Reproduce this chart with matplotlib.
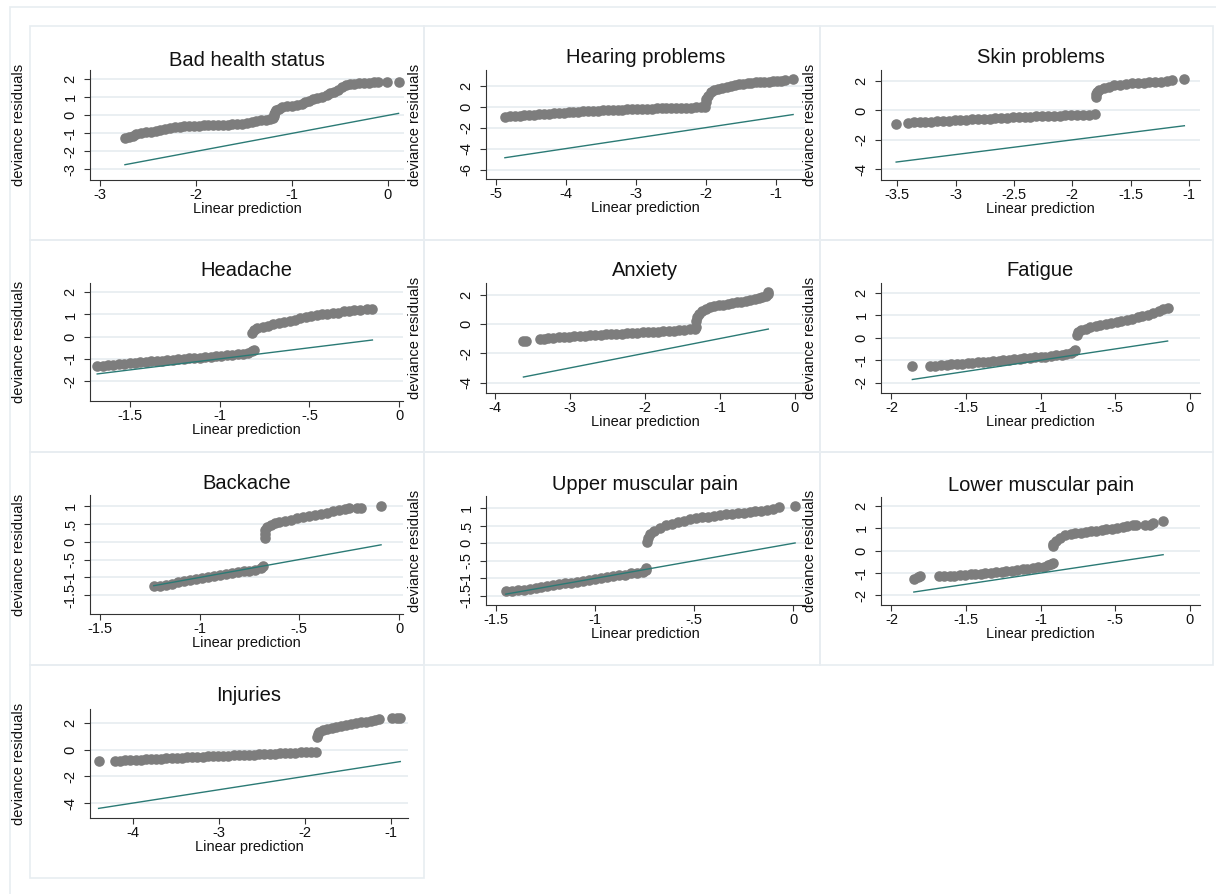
import matplotlib.pyplot as plt
from matplotlib.patches import Rectangle

plt.rcParams['font.family'] = ['Liberation Sans', 'DejaVu Sans']

W, H = 1216, 894

titles = ["Bad health status", "Hearing problems", "Skin problems",
          "Headache", "Anxiety", "Fatigue",
          "Backache", "Upper muscular pain", "Lower muscular pain",
          "Injuries"]

# (linear prediction, deviance residual) pairs
bad_health = [(-2.74, -1.28), (-2.70, -1.22), (-2.66, -1.15), (-2.62, -1.05), (-2.57, -0.99),
              (-2.52, -0.95), (-2.47, -0.90), (-2.42, -0.86), (-2.37, -0.82), (-2.32, -0.77),
              (-2.27, -0.72), (-2.22, -0.67), (-2.17, -0.64), (-2.12, -0.61), (-2.07, -0.59),
              (-2.02, -0.58), (-1.97, -0.57), (-1.92, -0.56), (-1.87, -0.56), (-1.82, -0.55),
              (-1.77, -0.54), (-1.72, -0.53), (-1.67, -0.52), (-1.62, -0.50), (-1.57, -0.49),
              (-1.52, -0.47), (-1.47, -0.43), (-1.42, -0.38), (-1.37, -0.32), (-1.32, -0.27),
              (-1.27, -0.24), (-1.23, -0.20), (-1.20, -0.15), (-1.19, -0.05), (-1.19, 0.08),
              (-1.18, 0.20), (-1.17, 0.30), (-1.14, 0.38), (-1.10, 0.45), (-1.05, 0.50),
              (-1.00, 0.54), (-0.95, 0.58), (-0.90, 0.63), (-0.86, 0.72), (-0.82, 0.82),
              (-0.78, 0.92), (-0.74, 0.98), (-0.69, 1.03), (-0.64, 1.12), (-0.60, 1.22),
              (-0.56, 1.32), (-0.52, 1.42), (-0.48, 1.58), (-0.44, 1.68), (-0.40, 1.74),
              (-0.35, 1.77), (-0.30, 1.78), (-0.25, 1.80), (-0.20, 1.81), (-0.15, 1.83),
              (-0.10, 1.84), (-0.01, 1.85), (0.11, 1.85)]

hearing = [(-4.87, -0.95), (-4.80, -0.93), (-4.73, -0.90), (-4.66, -0.87), (-4.59, -0.83),
           (-4.52, -0.80), (-4.45, -0.77), (-4.38, -0.74), (-4.31, -0.71), (-4.24, -0.68),
           (-4.17, -0.65), (-4.10, -0.60), (-4.03, -0.57), (-3.96, -0.54), (-3.89, -0.51),
           (-3.82, -0.48), (-3.75, -0.45), (-3.68, -0.42), (-3.61, -0.40), (-3.54, -0.37),
           (-3.47, -0.35), (-3.40, -0.33), (-3.33, -0.31), (-3.26, -0.29), (-3.19, -0.27),
           (-3.12, -0.25), (-3.05, -0.24), (-2.98, -0.22), (-2.91, -0.21), (-2.84, -0.19),
           (-2.77, -0.18), (-2.70, -0.17), (-2.63, -0.16), (-2.56, -0.14), (-2.49, -0.13),
           (-2.42, -0.12), (-2.35, -0.10), (-2.28, -0.09), (-2.21, -0.08), (-2.14, -0.07),
           (-2.07, -0.06), (-2.01, -0.05), (-2.00, 0.40), (-1.99, 0.75), (-1.96, 1.05),
           (-1.92, 1.40), (-1.88, 1.60), (-1.82, 1.72), (-1.76, 1.82), (-1.70, 1.90),
           (-1.64, 2.00), (-1.58, 2.06), (-1.52, 2.12), (-1.46, 2.17), (-1.40, 2.24),
           (-1.35, 2.28), (-1.28, 2.32), (-1.22, 2.35), (-1.16, 2.38), (-1.10, 2.40),
           (-1.04, 2.42), (-0.98, 2.45), (-0.92, 2.48), (-0.86, 2.52), (-0.75, 2.63)]

skin = [(-3.51, -0.89), (-3.41, -0.84), (-3.36, -0.82), (-3.31, -0.80), (-3.26, -0.78),
        (-3.21, -0.76), (-3.16, -0.74), (-3.11, -0.72), (-3.06, -0.70), (-3.01, -0.68),
        (-2.96, -0.66), (-2.91, -0.64), (-2.86, -0.61), (-2.81, -0.59), (-2.76, -0.57),
        (-2.71, -0.55), (-2.66, -0.53), (-2.61, -0.51), (-2.56, -0.50), (-2.51, -0.48),
        (-2.46, -0.46), (-2.41, -0.45), (-2.36, -0.43), (-2.31, -0.41), (-2.26, -0.39),
        (-2.21, -0.37), (-2.16, -0.36), (-2.11, -0.35), (-2.06, -0.33), (-2.01, -0.32),
        (-1.96, -0.31), (-1.91, -0.30), (-1.86, -0.29), (-1.81, -0.27), (-1.80, 0.93),
        (-1.80, 1.10), (-1.79, 1.25), (-1.77, 1.38), (-1.73, 1.50), (-1.69, 1.62),
        (-1.64, 1.70), (-1.59, 1.76), (-1.54, 1.80), (-1.49, 1.84), (-1.44, 1.86),
        (-1.39, 1.89), (-1.34, 1.91), (-1.29, 1.93), (-1.24, 1.96), (-1.19, 1.99),
        (-1.15, 2.05), (-1.04, 2.11)]

headache = [(-1.68, -1.32), (-1.65, -1.30), (-1.62, -1.28), (-1.59, -1.26), (-1.56, -1.24),
            (-1.53, -1.22), (-1.50, -1.19), (-1.47, -1.17), (-1.44, -1.15), (-1.41, -1.13),
            (-1.38, -1.11), (-1.35, -1.10), (-1.32, -1.08), (-1.29, -1.06), (-1.26, -1.04),
            (-1.23, -1.02), (-1.20, -1.00), (-1.17, -0.98), (-1.14, -0.97), (-1.11, -0.95),
            (-1.08, -0.93), (-1.05, -0.91), (-1.02, -0.88), (-0.99, -0.86), (-0.96, -0.83),
            (-0.93, -0.81), (-0.90, -0.79), (-0.87, -0.77), (-0.84, -0.74), (-0.82, -0.66),
            (-0.81, -0.58), (-0.82, 0.18), (-0.81, 0.30), (-0.79, 0.38), (-0.76, 0.44),
            (-0.73, 0.50), (-0.70, 0.55), (-0.67, 0.60), (-0.64, 0.64), (-0.61, 0.69),
            (-0.58, 0.74), (-0.55, 0.83), (-0.52, 0.88), (-0.49, 0.93), (-0.46, 0.97),
            (-0.43, 1.00), (-0.40, 1.02), (-0.37, 1.05), (-0.34, 1.09), (-0.31, 1.14),
            (-0.28, 1.18), (-0.25, 1.20), (-0.22, 1.22), (-0.18, 1.25), (-0.15, 1.25)]

anxiety = [(-3.62, -1.18), (-3.58, -1.14), (-3.40, -1.02), (-3.35, -1.00), (-3.29, -0.97),
           (-3.22, -0.94), (-3.15, -0.91), (-3.08, -0.88), (-3.01, -0.86), (-2.94, -0.84),
           (-2.87, -0.82), (-2.80, -0.80), (-2.73, -0.78), (-2.66, -0.76), (-2.59, -0.74),
           (-2.52, -0.72), (-2.45, -0.70), (-2.38, -0.68), (-2.31, -0.66), (-2.24, -0.64),
           (-2.17, -0.62), (-2.10, -0.60), (-2.03, -0.58), (-1.96, -0.56), (-1.89, -0.54),
           (-1.82, -0.52), (-1.75, -0.50), (-1.68, -0.48), (-1.61, -0.46), (-1.54, -0.43),
           (-1.47, -0.40), (-1.40, -0.37), (-1.33, -0.32), (-1.31, -0.22), (-1.31, 0.20),
           (-1.30, 0.45), (-1.27, 0.68), (-1.23, 0.86), (-1.18, 1.00), (-1.13, 1.12),
           (-1.07, 1.20), (-1.01, 1.26), (-0.95, 1.31), (-0.89, 1.36), (-0.83, 1.42),
           (-0.77, 1.47), (-0.71, 1.52), (-0.65, 1.57), (-0.59, 1.62), (-0.53, 1.70),
           (-0.48, 1.80), (-0.43, 1.85), (-0.38, 1.90), (-0.36, 2.05), (-0.35, 2.20)]

fatigue = [(-1.86, -1.27), (-1.74, -1.27), (-1.71, -1.25), (-1.67, -1.23), (-1.63, -1.21),
           (-1.60, -1.19), (-1.56, -1.17), (-1.53, -1.15), (-1.49, -1.13), (-1.46, -1.11),
           (-1.42, -1.09), (-1.39, -1.07), (-1.35, -1.06), (-1.32, -1.04), (-1.28, -1.02),
           (-1.25, -1.00), (-1.21, -0.98), (-1.18, -0.96), (-1.14, -0.94), (-1.11, -0.92),
           (-1.07, -0.90), (-1.04, -0.88), (-1.00, -0.86), (-0.97, -0.84), (-0.93, -0.81),
           (-0.90, -0.79), (-0.86, -0.76), (-0.83, -0.72), (-0.80, -0.66), (-0.78, -0.60),
           (-0.77, -0.53), (-0.76, 0.12), (-0.75, 0.25), (-0.73, 0.33), (-0.70, 0.40),
           (-0.67, 0.46), (-0.63, 0.52), (-0.60, 0.57), (-0.56, 0.62), (-0.53, 0.67),
           (-0.49, 0.71), (-0.46, 0.76), (-0.42, 0.80), (-0.39, 0.85), (-0.35, 0.90),
           (-0.32, 0.95), (-0.28, 1.02), (-0.25, 1.10), (-0.21, 1.18), (-0.18, 1.26),
           (-0.15, 1.33)]

backache = [(-1.23, -1.25), (-1.20, -1.23), (-1.17, -1.20), (-1.14, -1.17), (-1.11, -1.14),
            (-1.08, -1.11), (-1.05, -1.08), (-1.02, -1.04), (-0.99, -1.01), (-0.96, -0.99),
            (-0.93, -0.97), (-0.90, -0.94), (-0.87, -0.91), (-0.84, -0.89), (-0.81, -0.86),
            (-0.78, -0.83), (-0.75, -0.81), (-0.72, -0.78), (-0.69, -0.74), (-0.68, -0.69),
            (-0.67, 0.10), (-0.67, 0.22), (-0.67, 0.32), (-0.66, 0.40), (-0.64, 0.46),
            (-0.62, 0.51), (-0.60, 0.55), (-0.57, 0.58), (-0.54, 0.61), (-0.51, 0.65),
            (-0.48, 0.68), (-0.45, 0.72), (-0.42, 0.75), (-0.39, 0.78), (-0.36, 0.81),
            (-0.33, 0.85), (-0.30, 0.88), (-0.27, 0.91), (-0.25, 0.93), (-0.21, 0.93),
            (-0.19, 0.94), (-0.09, 0.99)]

upper_pain = [(-1.45, -1.35), (-1.42, -1.35), (-1.39, -1.34), (-1.36, -1.33), (-1.33, -1.30),
              (-1.30, -1.27), (-1.27, -1.24), (-1.24, -1.21), (-1.21, -1.18), (-1.18, -1.16),
              (-1.15, -1.14), (-1.12, -1.12), (-1.09, -1.09), (-1.06, -1.07), (-1.03, -1.05),
              (-1.00, -1.02), (-0.97, -1.00), (-0.94, -0.97), (-0.91, -0.94), (-0.88, -0.91),
              (-0.85, -0.89), (-0.82, -0.86), (-0.79, -0.84), (-0.76, -0.81), (-0.74, -0.76),
              (-0.74, -0.70), (-0.735, 0.05), (-0.73, 0.15), (-0.72, 0.26), (-0.70, 0.36),
              (-0.67, 0.45), (-0.64, 0.51), (-0.61, 0.56), (-0.58, 0.61), (-0.55, 0.64),
              (-0.52, 0.68), (-0.49, 0.71), (-0.46, 0.74), (-0.43, 0.76), (-0.40, 0.79),
              (-0.37, 0.81), (-0.34, 0.83), (-0.31, 0.85), (-0.28, 0.86), (-0.25, 0.87),
              (-0.22, 0.89), (-0.19, 0.91), (-0.16, 0.93), (-0.13, 0.96), (-0.10, 0.99),
              (-0.07, 1.03), (0.01, 1.07)]

lower_pain = [(-1.85, -1.25), (-1.82, -1.20), (-1.81, -1.14), (-1.68, -1.14), (-1.65, -1.14),
              (-1.61, -1.13), (-1.58, -1.12), (-1.54, -1.10), (-1.51, -1.08), (-1.47, -1.06),
              (-1.44, -1.05), (-1.40, -1.03), (-1.37, -1.01), (-1.33, -0.99), (-1.30, -0.97),
              (-1.26, -0.94), (-1.23, -0.92), (-1.19, -0.90), (-1.16, -0.87), (-1.12, -0.84),
              (-1.09, -0.82), (-1.05, -0.78), (-1.02, -0.75), (-0.98, -0.71), (-0.95, -0.66),
              (-0.93, -0.61), (-0.92, -0.56), (-0.92, 0.20), (-0.92, 0.32), (-0.90, 0.45),
              (-0.87, 0.58), (-0.84, 0.68), (-0.80, 0.74), (-0.77, 0.78), (-0.73, 0.81),
              (-0.70, 0.84), (-0.66, 0.87), (-0.63, 0.90), (-0.59, 0.93), (-0.56, 0.96),
              (-0.52, 0.99), (-0.49, 1.02), (-0.45, 1.06), (-0.42, 1.10), (-0.38, 1.14),
              (-0.36, 1.15), (-0.30, 1.13), (-0.27, 1.17), (-0.25, 1.25), (-0.18, 1.31)]

injuries = [(-4.40, -0.83), (-4.21, -0.86), (-4.15, -0.84), (-4.09, -0.81), (-4.03, -0.78),
            (-3.97, -0.76), (-3.91, -0.74), (-3.85, -0.72), (-3.79, -0.70), (-3.73, -0.69),
            (-3.67, -0.67), (-3.61, -0.65), (-3.55, -0.63), (-3.49, -0.62), (-3.43, -0.60),
            (-3.37, -0.58), (-3.31, -0.56), (-3.25, -0.54), (-3.19, -0.53), (-3.13, -0.51),
            (-3.07, -0.49), (-3.01, -0.48), (-2.95, -0.46), (-2.89, -0.44), (-2.83, -0.43),
            (-2.77, -0.41), (-2.71, -0.40), (-2.65, -0.38), (-2.59, -0.37), (-2.53, -0.35),
            (-2.47, -0.33), (-2.41, -0.32), (-2.35, -0.30), (-2.29, -0.28), (-2.23, -0.26),
            (-2.17, -0.24), (-2.11, -0.22), (-2.05, -0.20), (-1.99, -0.18), (-1.93, -0.16),
            (-1.87, -0.14), (-1.86, 0.95), (-1.85, 1.15), (-1.83, 1.33), (-1.79, 1.45),
            (-1.74, 1.53), (-1.69, 1.60), (-1.64, 1.67), (-1.58, 1.76), (-1.52, 1.84),
            (-1.46, 1.90), (-1.40, 1.98), (-1.35, 2.10), (-1.29, 2.08), (-1.23, 2.14),
            (-1.18, 2.22), (-1.14, 2.30), (-0.99, 2.38), (-0.93, 2.38), (-0.89, 2.38)]

panels = [bad_health, hearing, skin, headache, anxiety, fatigue,
          backache, upper_pain, lower_pain, injuries]

xticks = [[-3, -2, -1, 0], [-5, -4, -3, -2, -1], [-3.5, -3, -2.5, -2, -1.5, -1],
          [-1.5, -1, -0.5, 0], [-4, -3, -2, -1, 0], [-2, -1.5, -1, -0.5, 0],
          [-1.5, -1, -0.5, 0], [-1.5, -1, -0.5, 0], [-2, -1.5, -1, -0.5, 0],
          [-4, -3, -2, -1]]
yticks = [[-3, -2, -1, 0, 1, 2], [-6, -4, -2, 0, 2], [-4, -2, 0, 2],
          [-2, -1, 0, 1, 2], [-4, -2, 0, 2], [-2, -1, 0, 1, 2],
          [-1.5, -1, -0.5, 0, 0.5, 1], [-1.5, -1, -0.5, 0, 0.5, 1], [-2, -1, 0, 1, 2],
          [-4, -2, 0, 2]]

# axis ranges and pixel boxes (left, top, right, bottom) of each plot area
xlims = [(-3.104, 0.167), (-5.14, -0.58), (-3.64, -0.906), (-1.72, 0.02), (-4.12, 0.14),
         (-2.07, 0.067), (-1.55, 0.02), (-1.55, 0.06), (-2.07, 0.067), (-4.5, -0.8)]
ylims = [(-3.59, 2.52), (-6.9, 3.5), (-4.73, 2.75), (-2.9, 2.42), (-4.71, 2.79),
         (-2.46, 2.43), (-2.02, 1.30), (-1.76, 1.35), (-2.43, 2.40), (-5.12, 3.05)]
boxes = [(90, 70, 404, 180), (486, 70, 805, 179), (881, 70, 1200, 180),
         (90, 283, 403, 401), (486, 283, 805, 393), (881, 283, 1200, 393),
         (90, 495, 403, 614), (486, 496, 805, 605), (881, 497, 1200, 605),
         (90, 709, 408, 818)]
title_pads = [0.5, 4.8, 4.8, 5, 5, 5, 4, 4.3, 4.3, 5.5]

DOT = '#7d7d7d'
LINE = '#2b7a75'
GRID = '#e6ecf0'
FRAME = '#e8edf1'


def stata_fmt(v):
    s = f"{v:g}"
    if v != 0 and abs(v) < 1:
        s = s.replace("0.", ".")
    return s


fig = plt.figure(figsize=(W / 100, H / 100), dpi=100)
fig.patch.set_facecolor('white')


def px_rect(x0, y0, x1, y1):
    return [x0 / W, 1 - y1 / H, (x1 - x0) / W, (y1 - y0) / H]


# light frames of the combined graph
frames = [(10, 7, 1240, 920)]
cols = [(30, 424), (424, 820), (820, 1213)]
rows = [(26, 240), (240, 452), (452, 665)]
for r0, r1 in rows:
    for c0, c1 in cols:
        frames.append((c0, r0, c1, r1))
frames.append((30, 665, 424, 878))
for x0, y0, x1, y1 in frames:
    l, b, w, h = px_rect(x0, y0, x1, y1)
    fig.add_artist(Rectangle((l, b), w, h, transform=fig.transFigure,
                             fill=False, ec=FRAME, lw=1.2))

for i, pts in enumerate(panels):
    x0, y0, x1, y1 = boxes[i]
    ax = fig.add_axes(px_rect(x0, y0, x1, y1))
    xs = [p[0] for p in pts]
    ys = [p[1] for p in pts]
    ax.scatter(xs, ys, s=58, color=DOT, linewidths=0, zorder=2)
    line_x = sorted(xs)
    ax.plot(line_x, line_x, color=LINE, lw=1.0, zorder=3)

    ax.set_xlim(*xlims[i])
    ax.set_ylim(*ylims[i])
    ax.set_xticks(xticks[i])
    ax.set_xticklabels([stata_fmt(v) for v in xticks[i]])
    ax.set_yticks(yticks[i])
    ax.set_yticklabels([stata_fmt(v) for v in yticks[i]], rotation=90, va='center')

    ax.spines['top'].set_visible(False)
    ax.spines['right'].set_visible(False)
    for side in ('left', 'bottom'):
        ax.spines[side].set_color('#333333')
        ax.spines[side].set_linewidth(0.8)
    ax.tick_params(axis='both', length=4, width=0.8, color='#333333',
                   labelsize=10.5, labelcolor='#111111')
    ax.tick_params(axis='x', pad=2)
    ax.tick_params(axis='y', pad=5)
    ax.grid(axis='y', color=GRID, lw=1.2, zorder=0)
    ax.set_axisbelow(True)

    ax.set_title(titles[i], fontsize=14.5, pad=title_pads[i], color='#111111')
    ax.set_xlabel("Linear prediction", fontsize=10.5, labelpad=0, color='#111111')
    ax.set_ylabel("deviance residuals", fontsize=10.5, color='#111111', va='center')
    ax.yaxis.set_label_coords(-71 / (x1 - x0), 0.5)

fig.savefig("out.png", dpi=100, facecolor='white')
